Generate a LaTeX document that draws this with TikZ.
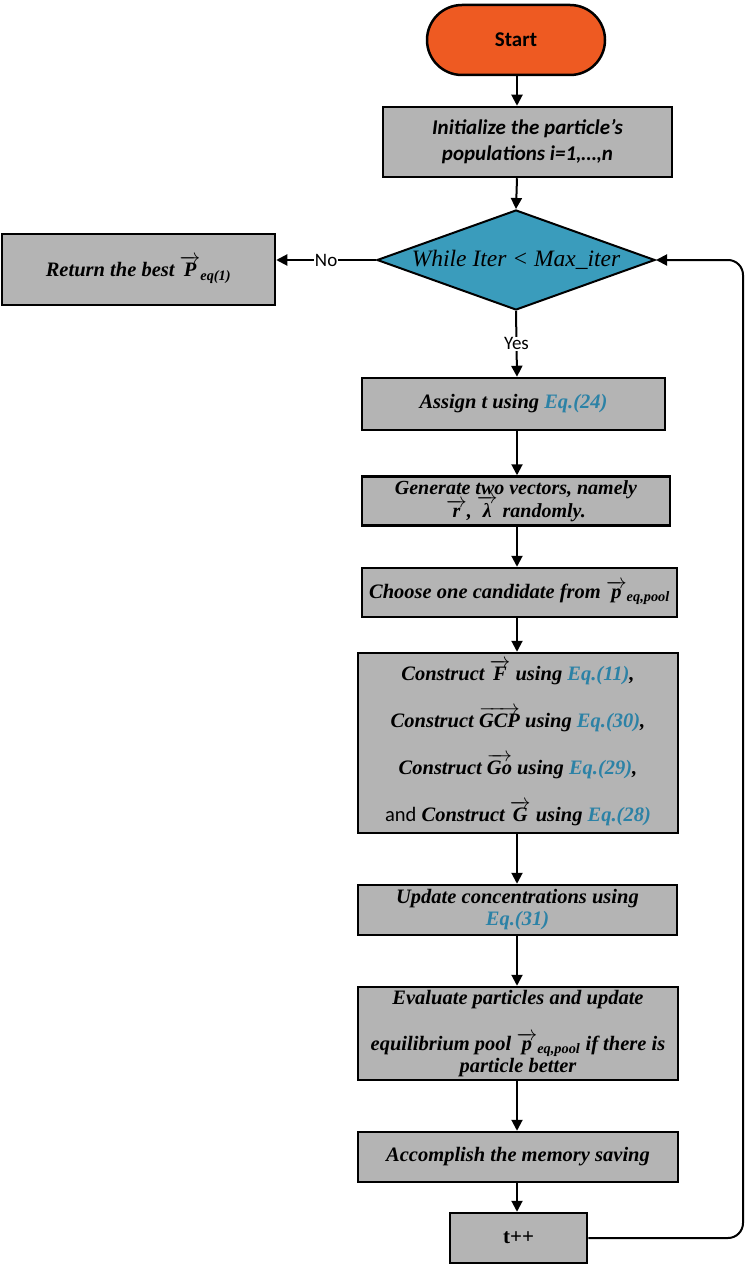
\documentclass[tikz,border=0pt]{standalone}
\usepackage{amsmath}
\usepackage{fontspec}
\setmainfont{Liberation Serif}
\newfontfamily\carl{Carlito}
\usetikzlibrary{arrows.meta,shapes.geometric}
\definecolor{startorange}{HTML}{EE5A22}
\definecolor{diablue}{HTML}{3A9CBC}
\definecolor{boxgray}{HTML}{B4B4B4}
\definecolor{eqc}{HTML}{2C82A6}
\newcommand\eqn[1]{\textcolor{eqc}{Eq.(#1)}}
\begin{document}
\begin{tikzpicture}[x=1pt,y=-1pt,
  box/.style={draw=black, line width=2.5pt, fill=boxgray, align=center, inner sep=0pt,
    font=\bfseries\itshape\fontsize{20.5}{22}\selectfont},
  arr/.style={line width=2pt, -{Triangle[length=11pt,width=11pt]}},
  lab/.style={fill=white, inner sep=1pt, font=\carl\fontsize{19}{21}\selectfont}]
\useasboundingbox (0,0) rectangle (747,1268);
\coordinate (spine) at (517,0);
\coordinate (loop) at (743,260);
\node[draw=black, line width=2.5pt, fill=startorange, rounded corners=35pt,
  minimum width=178pt, minimum height=70pt,
  font=\carl\bfseries\fontsize{21}{23}\selectfont] (start) at (516,40) {Start};
\node[box, minimum width=289pt, minimum height=70pt,
  font=\carl\bfseries\itshape\fontsize{21}{26}\selectfont] (init) at (527.5,142)
  {Initialize the particle’s\\populations i=1,…,n};
\node[diamond, draw=black, line width=2pt, fill=diablue, minimum width=278pt,
  minimum height=100pt, inner sep=0pt,
  label={[font=\itshape\fontsize{23.5}{25}\selectfont]center:While Iter < Max\_iter}]
  (dia) at (516,260) {};
\node[box, minimum width=273pt, minimum height=71pt] (ret) at (138.5,269.5)
  {Return the best $\overrightarrow{\text{P}}_{\text{eq(1)}}$};
\node[box, minimum width=303pt, minimum height=52pt] (assign) at (513.5,404)
  {Assign t using \eqn{24}};
\node[box, minimum width=308pt, minimum height=49pt, font=\bfseries\itshape\fontsize{20}{21}\selectfont] (gen) at (516,501)
  {Generate two vectors, namely\\[2pt] \smash{$\overrightarrow{\text{r}}$}, \smash{$\overrightarrow{\text{λ}}$} randomly.};
\node[box, minimum width=315pt, minimum height=49pt] (choose) at (519.5,592.5)
  {Choose one candidate from $\overrightarrow{\text{p}}_{\text{eq,pool}}$};
\node[box, minimum width=320pt, minimum height=180pt,
  font=\bfseries\itshape\fontsize{20.5}{47}\selectfont] (cons) at (518,743)
  {Construct $\overrightarrow{\text{F}}$ using \eqn{11},\\
   Construct $\overrightarrow{\text{GCP}}$ using \eqn{30},\\
   Construct $\overrightarrow{\text{Go}}$ using \eqn{29},\\
   {\carl\mdseries\upshape and} Construct $\overrightarrow{\text{G}}$ using \eqn{28}};
\node[box, minimum width=319pt, minimum height=50pt] (upd) at (517.5,910)
  {Update concentrations using\\ \eqn{31}};
\node[box, minimum width=320pt, minimum height=93pt] (eval) at (518,1033.5)
  {Evaluate particles and update\\[24pt]
   equilibrium pool $\overrightarrow{\text{p}}_{\text{eq,pool}}$ if there is\\
   particle better};
\node[box, minimum width=320pt, minimum height=50pt] (acc) at (518,1157)
  {Accomplish the memory saving};
\node[box, minimum width=137pt, minimum height=50pt,
  font=\bfseries\fontsize{21}{23}\selectfont] (tpp) at (518.5,1238) {t++};
\draw[arr] (start.south -| spine) -- (init.north -| spine);
\draw[arr] (init.south -| spine) -- (dia.north);
\draw[arr] (dia.west) -- node[lab]{No} (dia.west -| ret.east);
\draw[arr] (dia.south) -- node[lab]{Yes} (assign.north -| spine);
\draw[arr] (assign.south -| spine) -- (gen.north -| spine);
\draw[arr] (gen.south -| spine) -- (choose.north -| spine);
\draw[arr] (choose.south -| spine) -- (cons.north -| spine);
\draw[arr] (cons.south -| spine) -- (upd.north -| spine);
\draw[arr] (upd.south -| spine) -- (eval.north -| spine);
\draw[arr] (eval.south -| spine) -- (acc.north -| spine);
\draw[arr] (acc.south -| spine) -- (tpp.north -| spine);
\draw[arr, rounded corners=15pt] (tpp.east) -| (loop) -- (dia.east);
\end{tikzpicture}
\end{document}
